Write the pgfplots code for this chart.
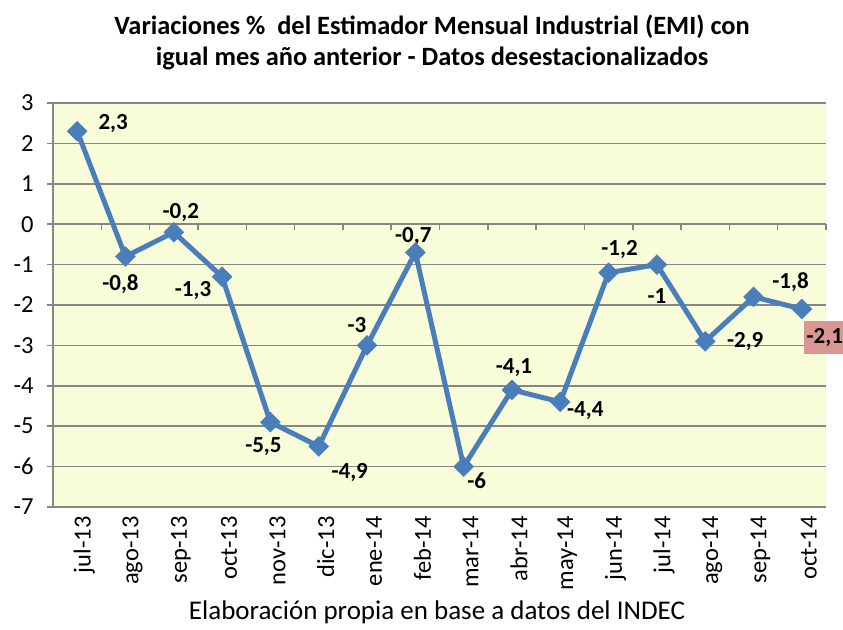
\documentclass[border=0pt]{standalone}
\usepackage{pgfplots}
\pgfplotsset{compat=1.18}
\usepackage{fontspec}
\setmainfont{Carlito}
\definecolor{bg}{RGB}{248,252,216}
\definecolor{ln}{RGB}{74,126,187}
\definecolor{gr}{RGB}{134,134,134}
\definecolor{pinkbox}{RGB}{217,150,148}
\newcommand{\lbl}{\fontsize{23bp}{23bp}\selectfont\bfseries}
\begin{document}
\begin{tikzpicture}
\useasboundingbox (-53bp,-123bp) rectangle (790bp,507bp);
\begin{axis}[
  scale only axis, width=773bp, height=404bp,
  xmin=-0.5, xmax=15.5, ymin=-7, ymax=3,
  clip=false,
  axis background/.style={fill=bg},
  axis x line=bottom, axis y line=left,
  axis line style={gr, line width=1.5bp, -},
  ytick={-7,-6,-5,-4,-3,-2,-1,0,1,2,3},
  yticklabels={-7,-6,-5,-4,-3,-2,-1,0,1,2,3},
  xtick={0,...,15},
  xticklabels={jul-13,ago-13,sep-13,oct-13,nov-13,dic-13,ene-14,feb-14,mar-14,abr-14,may-14,jun-14,jul-14,ago-14,sep-14,oct-14},
  x tick label style={rotate=90, anchor=east, yshift=-7bp, font=\fontsize{24.5bp}{24.5bp}\selectfont},
  y tick label style={xshift=-10bp, font=\fontsize{24.5bp}{24.5bp}\selectfont},
  tick align=outside,
  major tick length=6bp,
  xtick style={draw=none},
  ytick style={gr, line width=1.5bp},
  ymajorgrids,
  grid style={gr, line width=1.5bp},
]
\pgfplotsinvokeforeach{-0.5,0.5,1.5,2.5,3.5,4.5,5.5,6.5,7.5,8.5,9.5,10.5,11.5,12.5,13.5,14.5,15.5}{
  \draw[gr, line width=1.5bp] (axis cs:#1,0) -- ([yshift=-6bp]axis cs:#1,0);
}
\addplot[ln, line width=5bp, mark=square*, mark size=7bp, mark options={rotate=45, fill=ln, draw=ln, line width=0.5bp}] coordinates {
(0,2.3) (1,-0.8) (2,-0.2) (3,-1.3) (4,-4.9) (5,-5.5) (6,-3) (7,-0.7)
(8,-6) (9,-4.1) (10,-4.4) (11,-1.2) (12,-1) (13,-2.9) (14,-1.8) (15,-2.1)
};
\node[font=\lbl, xshift=36bp, yshift=8bp] at (axis cs:0,2.3) {2,3};
\node[font=\lbl, xshift=-5bp, yshift=-28bp] at (axis cs:1,-0.8) {-0,8};
\node[font=\lbl, xshift=7bp, yshift=20bp] at (axis cs:2,-0.2) {-0,2};
\node[font=\lbl, xshift=-29bp, yshift=-14bp] at (axis cs:3,-1.3) {-1,3};
\node[font=\lbl, xshift=-7bp, yshift=-24bp] at (axis cs:4,-4.9) {-5,5};
\node[font=\lbl, xshift=31bp, yshift=-26bp] at (axis cs:5,-5.5) {-4,9};
\node[font=\lbl, xshift=-10bp, yshift=20bp] at (axis cs:6,-3) {-3};
\node[font=\lbl, xshift=-2bp, yshift=16bp] at (axis cs:7,-0.7) {-0,7};
\node[font=\lbl, xshift=13bp, yshift=-14bp] at (axis cs:8,-6) {-6};
\node[font=\lbl, xshift=2bp, yshift=22bp] at (axis cs:9,-4.1) {-4,1};
\node[font=\lbl, xshift=25bp, yshift=-9bp] at (axis cs:10,-4.4) {-4,4};
\node[font=\lbl, xshift=11bp, yshift=23bp] at (axis cs:11,-1.2) {-1,2};
\node[font=\lbl, xshift=0bp, yshift=-31bp] at (axis cs:12,-1) {-1};
\node[font=\lbl, xshift=40bp, yshift=0bp] at (axis cs:13,-2.9) {-2,9};
\node[font=\lbl, xshift=37bp, yshift=15bp] at (axis cs:14,-1.8) {-1,8};
\node[font=\lbl, fill=pinkbox, inner sep=0pt, minimum width=41bp, minimum height=33bp, xshift=23bp, yshift=-28bp] at (axis cs:15,-2.1) {-2,1};
\end{axis}
\node[font=\fontsize{26.4bp}{26.4bp}\selectfont\bfseries] at (379bp,480bp) {Variaciones \%\ \ del Estimador Mensual Industrial (EMI) con};
\node[font=\fontsize{26.4bp}{26.4bp}\selectfont\bfseries] at (379bp,449bp) {igual mes año anterior - Datos desestacionalizados};
\node[font=\fontsize{27bp}{27bp}\selectfont] at (384bp,-105bp) {Elaboración propia en base a datos del INDEC};
\end{tikzpicture}
\end{document}
